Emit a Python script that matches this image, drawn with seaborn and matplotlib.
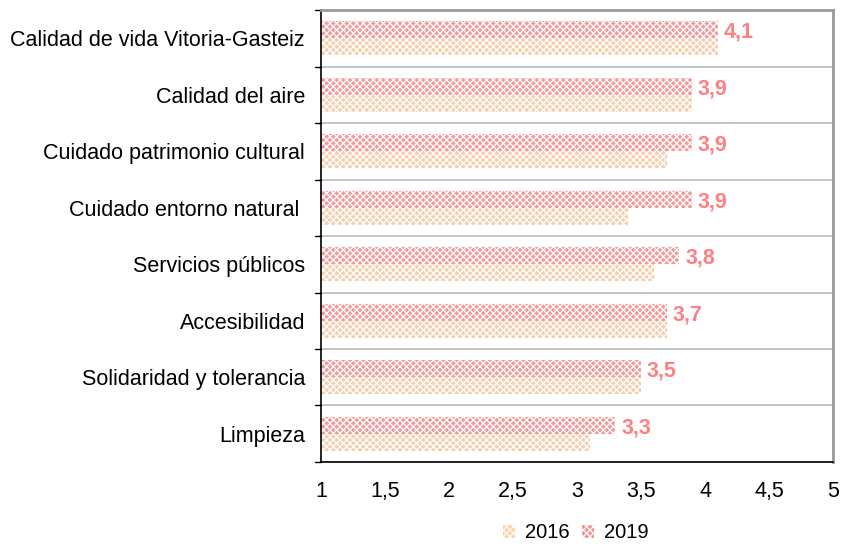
import matplotlib
matplotlib.use("Agg")
import matplotlib.pyplot as plt
import matplotlib.patches as mpatches
import seaborn as sns
import pandas as pd

# Valoración media por aspecto (escala 1-5)
categories = [
    "Calidad de vida Vitoria-Gasteiz",
    "Calidad del aire",
    "Cuidado patrimonio cultural",
    "Cuidado entorno natural ",
    "Servicios públicos",
    "Accesibilidad",
    "Solidaridad y tolerancia",
    "Limpieza",
]
values_2016 = [4.1, 3.9, 3.7, 3.4, 3.6, 3.7, 3.5, 3.1]
values_2019 = [4.1, 3.9, 3.9, 3.9, 3.8, 3.7, 3.5, 3.3]
x_ticks = [1, 1.5, 2, 2.5, 3, 3.5, 4, 4.5, 5]

df = pd.DataFrame({
    "aspecto": categories * 2,
    "valor": values_2019 + values_2016,
    "año": ["2019"] * len(categories) + ["2016"] * len(categories),
})

sns.set_style("white")
plt.rcParams["font.family"] = ["Liberation Sans", "DejaVu Sans"]
plt.rcParams["hatch.linewidth"] = 0.9

colors = {"2019": "#FF8E8E", "2016": "#FFD0A2"}
fs = 15.5

fig = plt.figure(figsize=(8.41, 5.47), dpi=100)
ax = fig.add_axes([0.3817, 0.1554, 0.6088, 0.8263])

sns.barplot(data=df, y="aspecto", x="valor", hue="año", hue_order=["2019", "2016"],
            palette=colors, orient="h", width=0.6, ax=ax, legend=False,
            edgecolor="white", linewidth=0)

for bar in ax.patches:
    bar.set_hatch("xxxxx")
    bar.set_edgecolor("white")
    bar.set_linewidth(0)

ax.set_xlim(1, 5)
ax.set_ylim(len(categories) - 0.5, -0.5)
ax.set_xticks(x_ticks)
ax.set_xticklabels([str(t).replace(".", ",") for t in x_ticks], fontsize=fs,
                   color="black", va="baseline")
ax.set_yticks(range(len(categories)))
ax.set_yticklabels(categories, fontsize=fs, color="black")
ax.tick_params(axis="y", length=0, pad=11.5)
ax.tick_params(axis="x", length=5, width=1, direction="out", color="black", pad=20)
ax.set_xlabel("")
ax.set_ylabel("")

# líneas separadoras entre categorías
for b in range(len(categories) + 1):
    y = b - 0.5
    ax.axhline(y, color="#BBBBBB", lw=1.2, zorder=0)
    ax.plot([-0.012, 0], [y, y], transform=ax.get_yaxis_transform(),
            color="black", lw=1, clip_on=False)

for side in ["left", "bottom"]:
    ax.spines[side].set_color("black")
    ax.spines[side].set_linewidth(1.2)
for side in ["top", "right"]:
    ax.spines[side].set_color("#999999")
    ax.spines[side].set_linewidth(2)

# etiquetas de 2019
for i, v in enumerate(values_2019):
    ax.text(v + 0.045, i - 0.15, f"{v:.1f}".replace(".", ","), color="#FF8080",
            fontsize=fs, fontweight="bold", va="center_baseline", ha="left")

handles = [mpatches.Patch(facecolor=colors[y], edgecolor="white", hatch="xxxxx", lw=0, label=y)
           for y in ["2016", "2019"]]
leg = fig.legend(handles=handles, loc="center", bbox_to_anchor=(0.685, 0.026), ncol=2,
                 frameon=False, fontsize=14.5, handlelength=0.6, handleheight=0.6,
                 handletextpad=0.5, columnspacing=0.6)
for t in leg.get_texts():
    t.set_color("black")

fig.savefig("out.png", dpi=100)
